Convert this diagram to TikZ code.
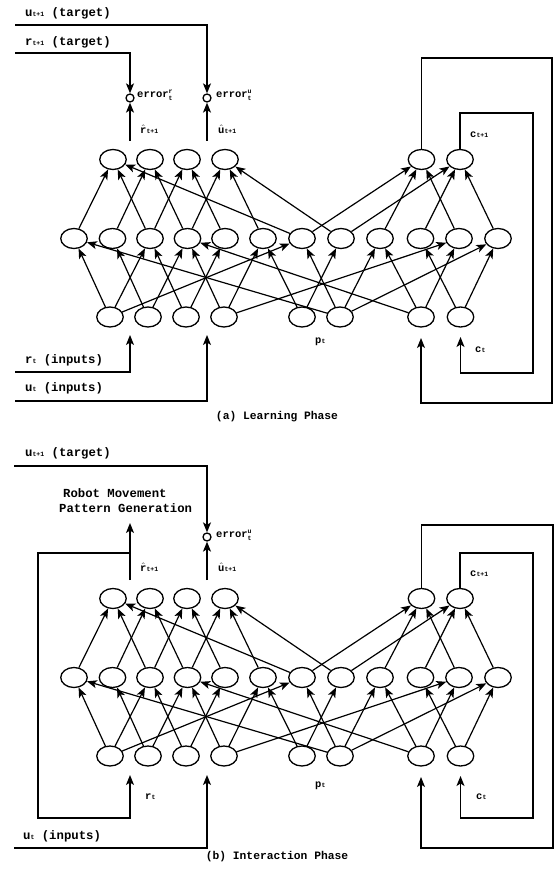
\documentclass[tikz,border=0pt]{standalone}
\usepackage{fontspec}
\setmainfont{Liberation Mono}
\usetikzlibrary{arrows.meta,shapes.geometric}
\newcommand{\sbs}[1]{{\fontsize{6.5}{7}\selectfont #1}}
\newcommand{\ssup}[2]{$^{\hbox{\fontsize{6.5}{7}\selectfont #1}}_{\hbox{\fontsize{6.5}{7}\selectfont #2}}$}
\newcommand{\hatted}[1]{$\hat{\hbox{#1}}$}
\tikzset{
  neuron/.style={ellipse, draw, line width=1.3pt, minimum width=26.5pt, minimum height=20pt, inner sep=0pt},
  errdot/.style={circle, draw, line width=1.3pt, minimum size=8pt, inner sep=0pt, fill=white},
  arr/.style={line width=1.2pt, -{Stealth[length=10pt,width=8pt,inset=2.5pt]}},
  lbl/.style={anchor=west, inner sep=0pt, font=\fontsize{12.3}{14}\selectfont\bfseries},
  sl/.style={anchor=west, inner sep=0pt, font=\fontsize{10.5}{12}\selectfont\bfseries},
  captext/.style={inner sep=0pt, font=\fontsize{11.3}{13}\selectfont\bfseries}
}
\newcommand{\drawnet}[2]{%
  \foreach \i/\x in {1/113,2/150,3/187,4/225,5/421.5,6/460}
    \node[neuron] (#1T\i) at (\x,159.5+#2) {};
  \foreach \i/\x in {1/74,2/112.5,3/150,4/187.5,5/225,6/263,7/302,8/341,9/380,10/420.5,11/459,12/498}
    \node[neuron] (#1M\i) at (\x,238.5+#2) {};
  \foreach \i/\x in {1/110,2/148,3/186,4/224,5/302,6/340,7/421,8/460.5}
    \node[neuron] (#1B\i) at (\x,317+#2) {};
  \foreach \a/\b in {1/1,1/3,1/7,2/2,2/4,3/3,3/5,4/4,4/6,4/11,5/6,5/8,6/7,6/9,6/12,6/1,7/9,7/11,7/4,8/10,8/12}
    \draw[arr] (#1B\a) -- (#1M\b);
  \foreach \a/\b in {1/1,2/2,3/1,3/3,4/2,4/4,5/3,6/4,7/1,7/5,8/4,8/6,9/5,10/6,11/5,12/6}
    \draw[arr] (#1M\a) -- (#1T\b);
}
\begin{document}
\begin{tikzpicture}[x=1pt,y=-1pt]
\useasboundingbox (0,0) rectangle (555,874);
% ---------------- (a) Learning phase
\drawnet{a}{0}
\node[errdot] (aeR) at (130,98) {};
\node[errdot] (aeU) at (207,98) {};
\coordinate (aU0) at (15,25); \coordinate (aU1) at (207,25);
\coordinate (aR0) at (15,53); \coordinate (aR1) at (130,53);
\draw[arr] (aU0) -- (aU1) -- (aeU);
\draw[arr] (aR0) -- (aR1) -- (aeR);
\coordinate (aRo) at (130,141); \coordinate (aUo) at (207,141);
\draw[arr] (aRo) -- (aeR);
\draw[arr] (aUo) -- (aeU);
\coordinate (aO1) at (421.5,58); \coordinate (aO2) at (552,58);
\coordinate (aO3) at (552,403); \coordinate (aO4) at (421,403); \coordinate (aO5) at (421,338);
\draw[arr] (aT5) -- (aO1) -- (aO2) -- (aO3) -- (aO4) -- (aO5);
\coordinate (aI1) at (460,113); \coordinate (aI2) at (533,113);
\coordinate (aI3) at (533,373); \coordinate (aI4) at (460.5,373); \coordinate (aI5) at (460.5,337);
\draw[arr] (aT6) -- (aI1) -- (aI2) -- (aI3) -- (aI4) -- (aI5);
\coordinate (arIn0) at (15,372); \coordinate (arIn1) at (130,372); \coordinate (arIn2) at (130,335);
\draw[arr] (arIn0) -- (arIn1) -- (arIn2);
\coordinate (auIn0) at (15,401); \coordinate (auIn1) at (207,401); \coordinate (auIn2) at (207,335);
\draw[arr] (auIn0) -- (auIn1) -- (auIn2);
\node[lbl] (la1) at (25,13) {u\sbs{t+1} (target)};
\node[lbl] (la2) at (25,42) {r\sbs{t+1} (target)};
\node[sl] (la3) at (137,95) {error\ssup{r}{t}};
\node[sl] (la4) at (216,95) {error\ssup{u}{t}};
\node[sl] (la5) at (140,129) {\hatted{r}\sbs{t+1}};
\node[sl] (la6) at (218,129) {\hatted{u}\sbs{t+1}};
\node[sl] (la7) at (470,135) {c\sbs{t+1}};
\node[sl] (la8) at (315,342) {p\sbs{t}};
\node[sl] (la9) at (475,350) {c\sbs{t}};
\node[lbl] (la10) at (25,360) {r\sbs{t} (inputs)};
\node[lbl] (la11) at (25,388) {u\sbs{t} (inputs)};
\node[captext] (capa) at (277,417) {(a) Learning Phase};
% ---------------- (b) Interaction phase
\drawnet{b}{439}
\node[errdot] (beU) at (207,537) {};
\coordinate (bU0) at (14,466); \coordinate (bU1) at (207,466);
\draw[arr] (bU0) -- (bU1) -- (beU);
\coordinate (bUo) at (207,580); \draw[arr] (bUo) -- (beU);
\coordinate (bRo) at (130,580); \coordinate (bRt) at (130,523);
\draw[arr] (bRo) -- (bRt);
\coordinate (bL0) at (130,553); \coordinate (bL1) at (38,553); \coordinate (bL2) at (38,818);
\coordinate (bL3) at (130,818); \coordinate (bL4) at (130,775);
\draw[arr] (bL0) -- (bL1) -- (bL2) -- (bL3) -- (bL4);
\coordinate (buIn0) at (14,848); \coordinate (buIn1) at (207,848); \coordinate (buIn2) at (207,775);
\draw[arr] (buIn0) -- (buIn1) -- (buIn2);
\coordinate (bO1) at (421.5,525); \coordinate (bO2) at (553,525);
\coordinate (bO3) at (553,848); \coordinate (bO4) at (421,848); \coordinate (bO5) at (421,777);
\draw[arr] (bT5) -- (bO1) -- (bO2) -- (bO3) -- (bO4) -- (bO5);
\coordinate (bI1) at (460,553); \coordinate (bI2) at (533,553);
\coordinate (bI3) at (533,818); \coordinate (bI4) at (460.5,818); \coordinate (bI5) at (460.5,776);
\draw[arr] (bT6) -- (bI1) -- (bI2) -- (bI3) -- (bI4) -- (bI5);
\node[lbl] (lb1) at (25,453) {u\sbs{t+1} (target)};
\node[lbl] (lb2) at (63,493) {Robot Movement};
\node[lbl] (lb3) at (59,508) {Pattern Generation};
\node[sl] (lb4) at (216,535) {error\ssup{u}{t}};
\node[sl] (lb5) at (140,567) {\hatted{r}\sbs{t+1}};
\node[sl] (lb6) at (218,567) {\hatted{u}\sbs{t+1}};
\node[sl] (lb7) at (470,574) {c\sbs{t+1}};
\node[sl] (lb8) at (145,797) {r\sbs{t}};
\node[sl] (lb9) at (315,786) {p\sbs{t}};
\node[sl] (lb10) at (476,797) {c\sbs{t}};
\node[lbl] (lb11) at (23,836) {u\sbs{t} (inputs)};
\node[captext] (capb) at (277,857) {(b) Interaction Phase};
\end{tikzpicture}
\end{document}
